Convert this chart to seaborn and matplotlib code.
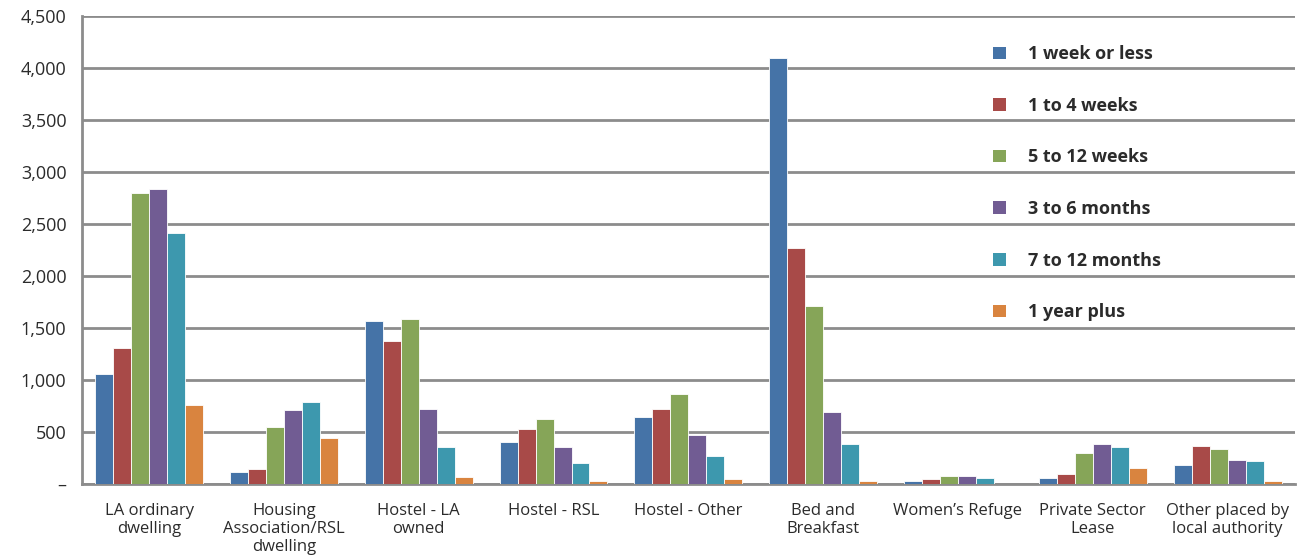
import seaborn as sns
import matplotlib.pyplot as plt
import pandas as pd
from matplotlib.patches import Patch
from matplotlib.ticker import FixedLocator, FuncFormatter

# ----- data -----
categories = [
    "LA ordinary\ndwelling",
    "Housing\nAssociation/RSL\ndwelling",
    "Hostel - LA\nowned",
    "Hostel - RSL",
    "Hostel - Other",
    "Bed and\nBreakfast",
    "Women’s Refuge",
    "Private Sector\nLease",
    "Other placed by\nlocal authority",
]
durations = ["1 week or less", "1 to 4 weeks", "5 to 12 weeks",
             "3 to 6 months", "7 to 12 months", "1 year plus"]

week_or_less = [1050, 110, 1560, 400, 640, 4100, 20, 55, 175]
one_to_four_weeks = [1300, 140, 1370, 520, 720, 2270, 40, 90, 365]
five_to_twelve_weeks = [2800, 540, 1580, 620, 860, 1710, 70, 295, 330]
three_to_six_months = [2830, 710, 720, 350, 470, 690, 70, 385, 230]
seven_to_twelve_months = [2410, 780, 350, 195, 260, 385, 55, 350, 215]
year_plus = [760, 440, 60, 20, 40, 20, 0, 145, 20]

series = [week_or_less, one_to_four_weeks, five_to_twelve_weeks,
          three_to_six_months, seven_to_twelve_months, year_plus]
colors = ["#4573A7", "#A84A48", "#86A558", "#715C93", "#3D98AE", "#D9843F"]

rows = []
for dur, vals in zip(durations, series):
    for cat, v in zip(categories, vals):
        rows.append({"Category": cat, "Duration": dur, "Count": v})
df = pd.DataFrame(rows)

# ----- styling -----
sns.set_style("white")
plt.rcParams["font.family"] = ["Open Sans", "DejaVu Sans"]
grid_col = "#8c8c8c"
text_col = "#2b2b2b"

W, H = 1312, 555
fig = plt.figure(figsize=(W / 100, H / 100), dpi=100)
ax = fig.add_axes([81.7 / W, 1 - 483.5 / H, (1295 - 81.7) / W, (483.5 - 16) / H])

sns.barplot(data=df, x="Category", y="Count", hue="Duration", order=categories,
            hue_order=durations, palette=colors, saturation=1, width=0.8, ax=ax,
            edgecolor="white", linewidth=0.6, legend=False, zorder=3)

ax.set_ylim(0, 4500)
ax.set_xlim(-0.5, len(categories) - 0.5)
ax.set_yticks(range(0, 4501, 500))
ax.yaxis.set_major_formatter(FuncFormatter(lambda v, p: "–" if v == 0 else f"{int(v):,}"))
ax.yaxis.grid(True, color=grid_col, linewidth=2, zorder=0)
ax.set_axisbelow(True)

ax.set_xlabel("")
ax.set_ylabel("")
ax.set_xticks(range(len(categories)))
ax.set_xticklabels(categories, fontsize=12, color=text_col, linespacing=1.18)
ax.tick_params(axis="x", which="major", length=0, pad=14)
ax.xaxis.set_minor_locator(FixedLocator([i - 0.5 for i in range(len(categories) + 1)]))
ax.tick_params(axis="x", which="minor", length=5, width=2, color=grid_col, direction="out")
ax.tick_params(axis="y", length=5, width=2, color=grid_col, labelsize=13,
               labelcolor=text_col, pad=6)

for side in ["top", "right"]:
    ax.spines[side].set_visible(False)
for side in ["left", "bottom"]:
    ax.spines[side].set_color(grid_col)
    ax.spines[side].set_linewidth(2)

handles = [Patch(facecolor=c, edgecolor="none") for c in colors]
leg = ax.legend(handles, durations, loc="upper left",
                bbox_to_anchor=(977 / W, 1 - 29 / H),
                bbox_transform=fig.transFigure, frameon=False,
                prop={"weight": "bold", "size": 13}, labelcolor=text_col,
                handlelength=0.7, handleheight=0.7, handletextpad=1.25,
                labelspacing=1.86)

fig.savefig("out.png", dpi=100)
plt.close(fig)
